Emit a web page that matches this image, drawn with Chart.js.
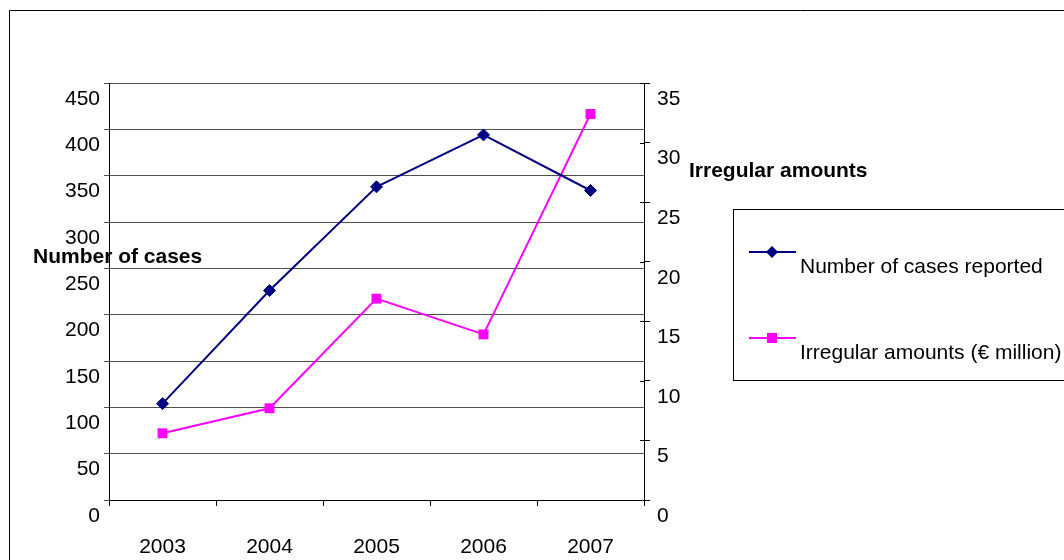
<!DOCTYPE html>
<html>
<head>
<meta charset="utf-8">
<script src="https://cdn.jsdelivr.net/npm/chart.js@4.4.1/dist/chart.umd.min.js"></script>
<style>
  html, body { margin: 0; padding: 0; background: #fff; }
  canvas { display: block; }
</style>
</head>
<body>
<canvas id="grafica" width="1064" height="560"></canvas>
<script>
const years = ['2003', '2004', '2005', '2006', '2007'];
const casesReported = [104, 226, 338, 394, 334];
const irregularAmounts = [5.6, 7.7, 16.9, 13.9, 32.4];
const casesTicks = { min: 0, max: 450, step: 50 };
const amountTicks = { min: 0, max: 35, step: 5 };

const FONT = '"Liberation Sans", Arial, sans-serif';
Chart.defaults.font.family = FONT;
Chart.defaults.font.size = 21;
Chart.defaults.color = '#000';

// frame, axis titles, legend box, inner half of right ticks
const extras = {
  id: 'extras',
  afterDraw(chart) {
    const ctx = chart.ctx;
    ctx.save();
    ctx.strokeStyle = '#000';
    ctx.lineWidth = 1;
    ctx.beginPath();
    ctx.moveTo(9.5, 560);
    ctx.lineTo(9.5, 10.5);
    ctx.lineTo(1064, 10.5);
    ctx.stroke();

    const y1 = chart.scales.y1;
    ctx.beginPath();
    y1.ticks.forEach(t => {
      const py = Math.round(y1.getPixelForValue(t.value)) + 0.5;
      ctx.moveTo(y1.left - 4, py);
      ctx.lineTo(y1.left, py);
    });
    ctx.stroke();

    ctx.fillStyle = '#000';
    ctx.textBaseline = 'middle';
    ctx.textAlign = 'left';
    ctx.font = 'bold 21px ' + FONT;
    ctx.fillText('Number of cases', 33, 257);
    ctx.fillText('Irregular amounts', 689, 171);

    // legend
    ctx.strokeRect(733.5, 209.5, 340, 171);
    const ds = chart.data.datasets;
    const rows = [252, 338];
    ctx.font = '21px ' + FONT;
    ds.forEach((d, i) => {
      const ly = rows[i];
      ctx.strokeStyle = d.borderColor;
      ctx.lineWidth = d.borderWidth;
      ctx.beginPath();
      ctx.moveTo(749, ly);
      ctx.lineTo(796, ly);
      ctx.stroke();
      ctx.fillStyle = d.pointBackgroundColor;
      ctx.beginPath();
      if (d.pointStyle === 'rectRot') {
        const r = d.pointRadius;
        ctx.moveTo(772, ly - r);
        ctx.lineTo(772 + r, ly);
        ctx.lineTo(772, ly + r);
        ctx.lineTo(772 - r, ly);
        ctx.closePath();
      } else {
        ctx.rect(767, ly - 5, 10, 10);
      }
      ctx.fill();
      ctx.fillStyle = '#000';
      ctx.fillText(d.label, 800, ly + 15);
    });
    ctx.restore();
  }
};

const grafica = document.getElementById('grafica').getContext('2d');
const verGrafica = new Chart(grafica, {
  type: 'line',
  data: {
    labels: years,
    datasets: [{
      label: 'Number of cases reported',
      data: casesReported,
      yAxisID: 'y',
      borderColor: '#000080',
      backgroundColor: '#000080',
      pointBackgroundColor: '#000080',
      pointBorderColor: '#000080',
      borderWidth: 2,
      pointStyle: 'rectRot',
      pointRadius: 6,
      pointBorderWidth: 1,
      tension: 0
    }, {
      label: 'Irregular amounts (€ million)',
      data: irregularAmounts,
      yAxisID: 'y1',
      borderColor: '#ff00ff',
      backgroundColor: '#ff00ff',
      pointBackgroundColor: '#ff00ff',
      pointBorderColor: '#ff00ff',
      borderWidth: 2,
      pointStyle: 'rect',
      pointRadius: 7,
      pointBorderWidth: 0,
      tension: 0
    }]
  },
  options: {
    responsive: false,
    animation: false,
    layout: { padding: { top: 83, left: 0, right: 0, bottom: 0 } },
    plugins: {
      legend: { display: false },
      tooltip: { enabled: false }
    },
    scales: {
      x: {
        offset: true,
        grid: { offset: true, drawOnChartArea: false, tickLength: 6, color: '#000' },
        border: { color: '#000' },
        ticks: { padding: 29, maxRotation: 0 },
        afterFit: s => { s.height = 60; }
      },
      y: {
        position: 'left',
        min: casesTicks.min,
        max: casesTicks.max,
        ticks: { stepSize: casesTicks.step, padding: 4, labelOffset: 16 },
        grid: { tickLength: 5, color: '#505050' },
        border: { color: '#000' },
        afterFit: s => { s.width = 109; }
      },
      y1: {
        position: 'right',
        min: amountTicks.min,
        max: amountTicks.max,
        ticks: { stepSize: amountTicks.step, padding: 7, labelOffset: 16 },
        grid: { drawOnChartArea: false, tickLength: 6, color: '#000' },
        border: { color: '#000' },
        afterFit: s => { s.width = 420; }
      }
    }
  },
  plugins: [extras]
});
</script>
</body>
</html>
